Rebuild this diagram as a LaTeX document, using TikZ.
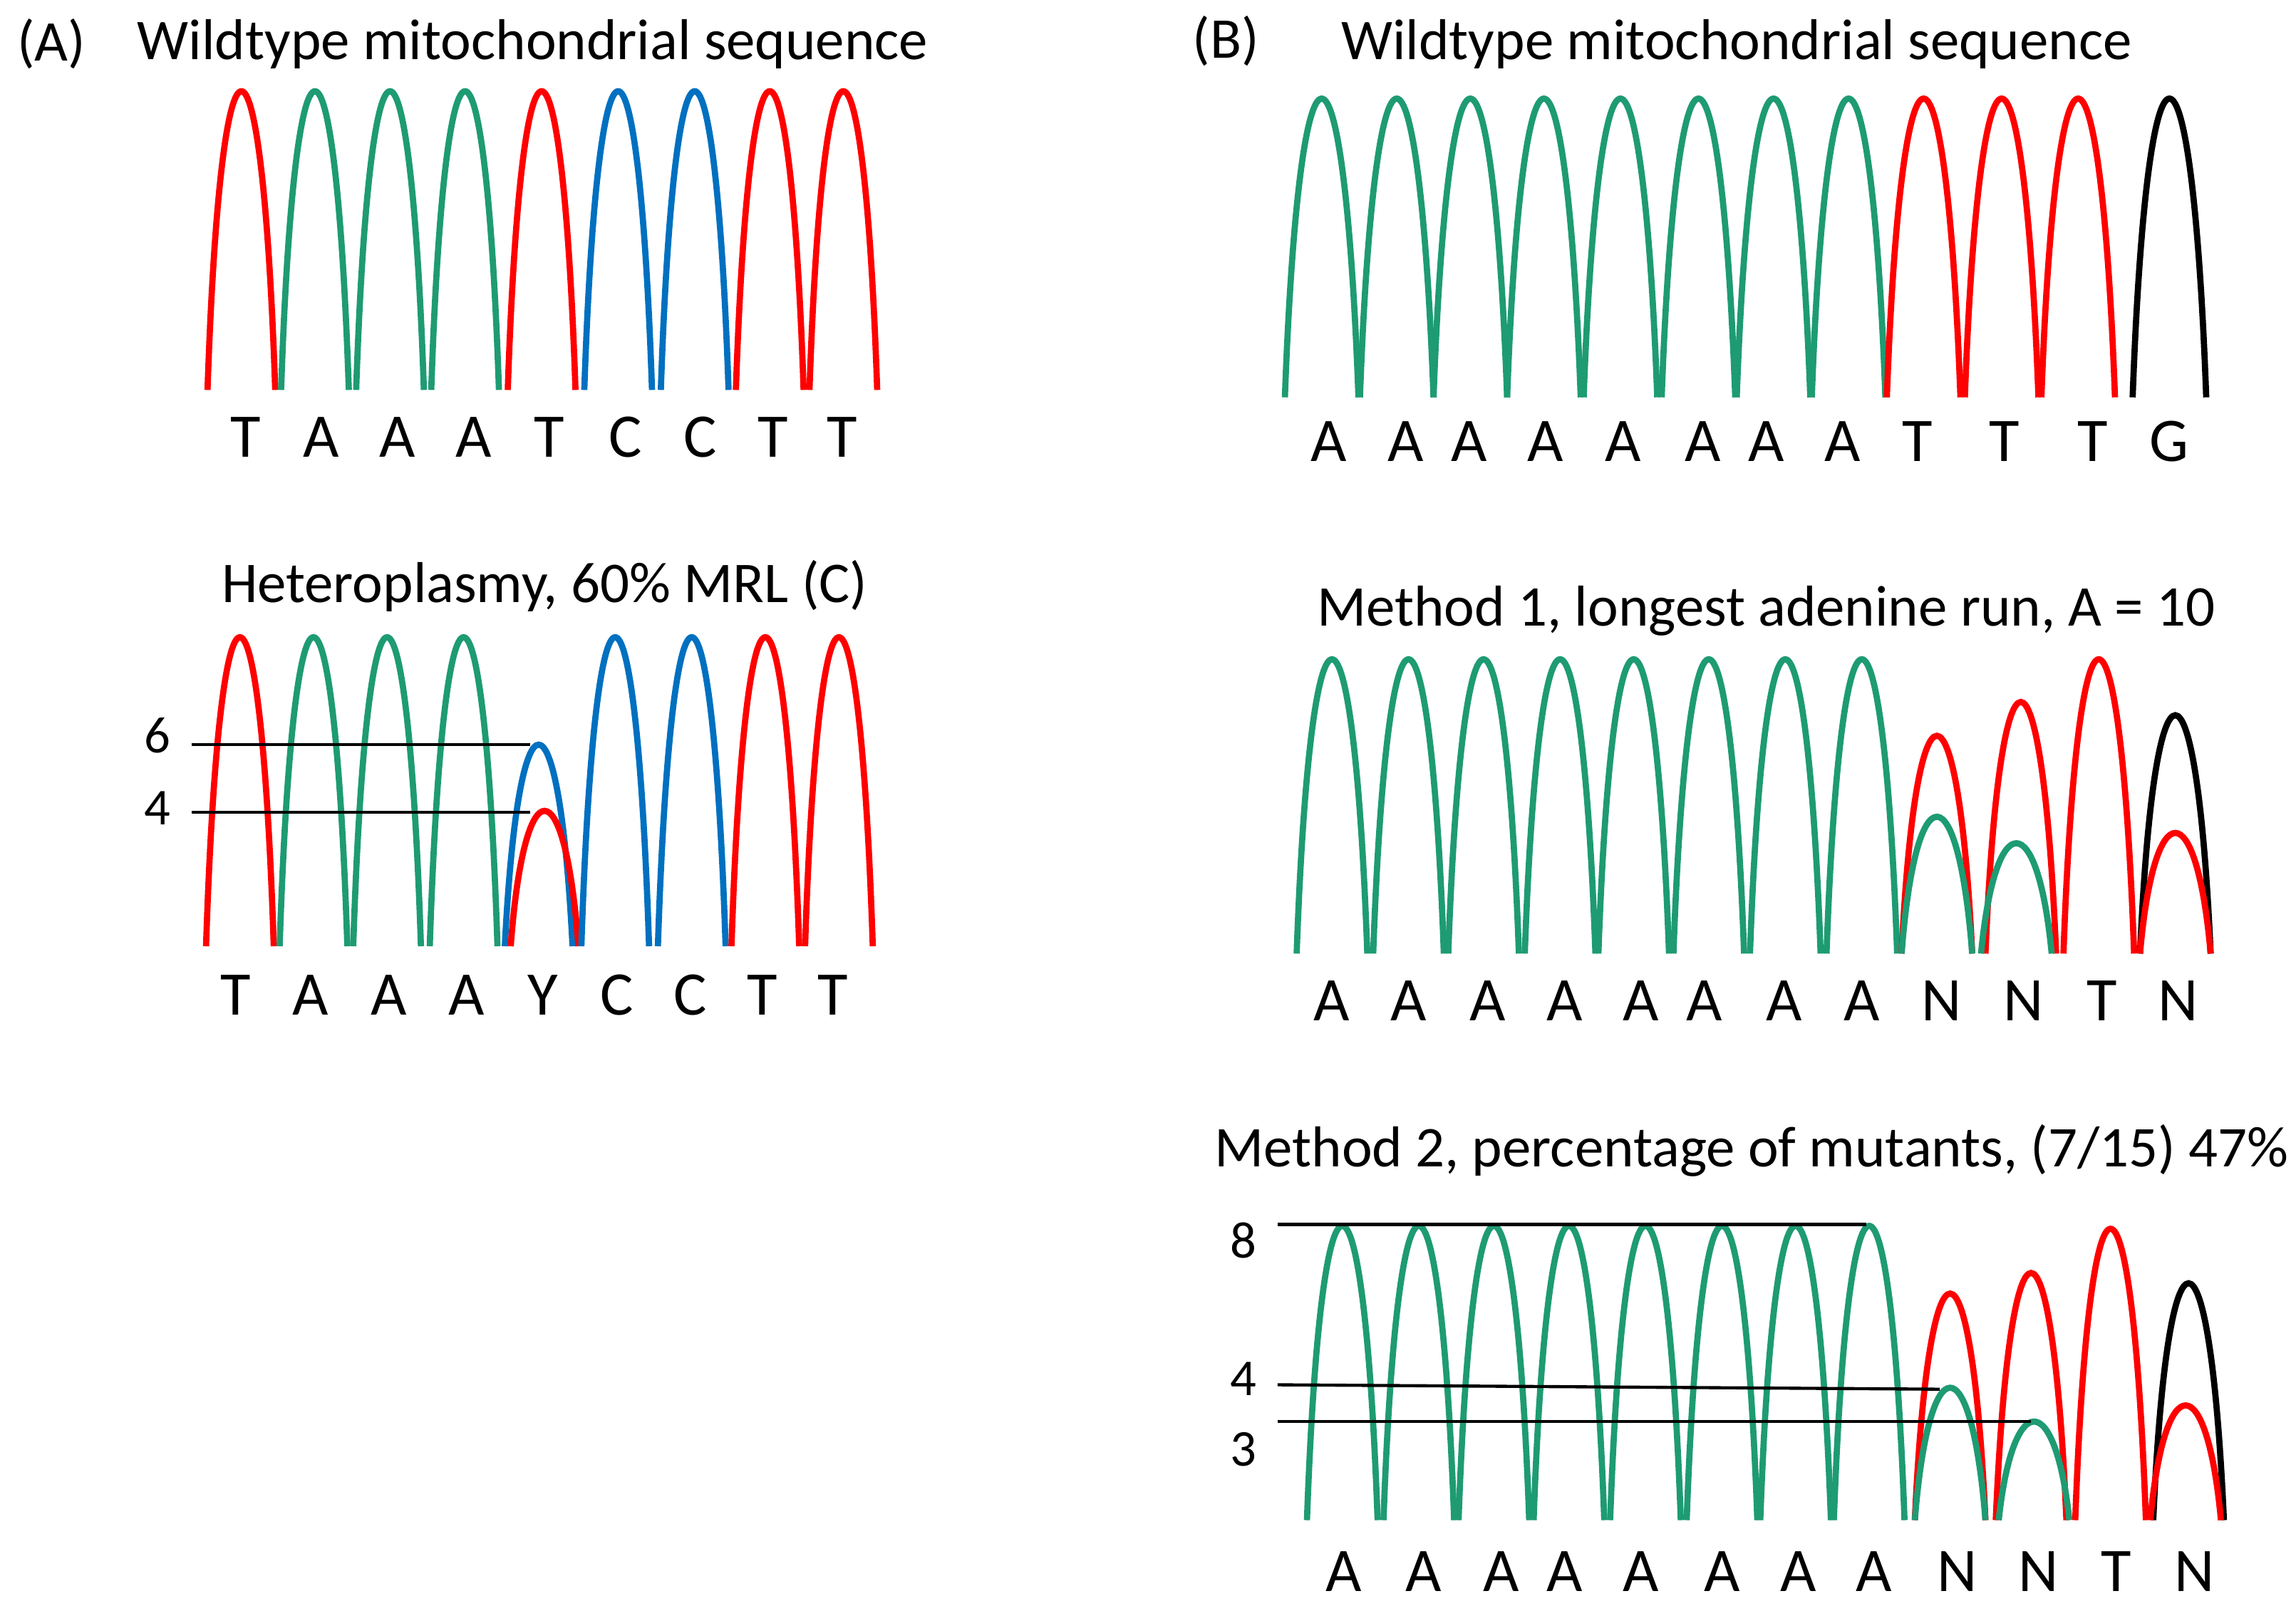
\documentclass[tikz,border=0pt]{standalone}
\usepackage{fontspec}
\setmainfont{Carlito}
\definecolor{pr}{RGB}{255,0,0}
\definecolor{pg}{RGB}{30,155,115}
\definecolor{pb}{RGB}{0,112,192}
\definecolor{pk}{RGB}{0,0,0}
\newcommand\pk[5]{% x, top, base, halfwidth, color
  \draw[#5,line width=2.4pt] ({#1-#4},#3) .. controls ({#1-0.6*#4},{#2-(#3-#2)/3}) and ({#1+0.6*#4},{#2-(#3-#2)/3}) .. ({#1+#4},#3);}
\begin{document}
\begin{tikzpicture}[x=0.02cm,y=-0.02cm,
  ttl/.style={font=\fontsize{22.3}{26}\selectfont},
  let/.style={font=\fontsize{24}{28}\selectfont},
  num/.style={font=\fontsize{20}{22}\selectfont},
  hl/.style={line width=1.2pt}]
\useasboundingbox (0,0) rectangle (1560,1091);
% Panel A
\node[ttl] (la) at (35,30) {(A)};
\node[ttl] (ta) at (362,30) {Wildtype mitochondrial sequence};
\foreach \x/\c in {164/pr,214/pg,265/pg,316/pg,368/pr,420/pb,472/pb,523/pr,573/pr}{\pk{\x}{62}{265}{23}{\c}}
\foreach \x/\l [count=\i] in {167/T,218/A,270/A,322/A,373/T,425/C,476/C,525/T,572/T}{\node[let] (a\i) at (\x,297) {\l};}
\node[ttl] (tb) at (370,398) {Heteroplasmy, 60\% MRL (C)};
\foreach \x/\t/\c in {163/433/pr,213/433/pg,263/433/pg,315/433/pg,366/506/pb,370/551/pr,418/433/pb,470/433/pb,520/433/pr,570/433/pr}{\pk{\x}{\t}{643}{23}{\c}}
\coordinate (h6a) at (130,506); \coordinate (h6b) at (360,506);
\coordinate (h4a) at (130,552); \coordinate (h4b) at (360,552);
\draw[hl] (h6a) -- (h6b); \draw[hl] (h4a) -- (h4b);
\node[num] (n6) at (107,500) {6};
\node[num] (n4) at (107,549) {4};
\foreach \x/\l [count=\i] in {160/T,211/A,264/A,317/A,369/Y,419/C,469/C,518/T,566/T}{\node[let] (b\i) at (\x,676) {\l};}
% Panel B top
\node[ttl] (lb) at (833,28) {(B)};
\node[ttl] (tc) at (1180,30) {Wildtype mitochondrial sequence};
\foreach \x/\c in {898/pg,949/pg,999/pg,1049/pg,1101/pg,1154/pg,1205/pg,1256/pg,1307/pr,1360/pr,1412/pr,1474/pk}{\pk{\x}{67}{270}{25}{\c}}
\foreach \x/\l [count=\i] in {903/A,955/A,998/A,1050/A,1103/A,1157/A,1200/A,1252/A,1303/T,1362/T,1422/T,1474/G}{\node[let] (c\i) at (\x,300) {\l};}
% Panel B middle
\node[ttl] (td) at (1200,415) {Method 1, longest adenine run, A = 10};
\foreach \x/\t/\c in {905/448/pg,957/448/pg,1008/448/pg,1060/448/pg,1110/448/pg,1161/448/pg,1213/448/pg,1265/448/pg,1316/500/pr,1316/555/pg,1373/477/pr,1370/573/pg,1426/448/pr,1478/486/pk,1478/566/pr}{\pk{\x}{\t}{648}{24}{\c}}
\foreach \x/\l [count=\i] in {905/A,957/A,1011/A,1063/A,1115/A,1158/A,1212/A,1265/A,1319/N,1375/N,1428/T,1480/N}{\node[let] (d\i) at (\x,680) {\l};}
% Panel B bottom
\node[ttl] (te) at (1190,782) {Method 2, percentage of mutants, (7/15) 47\%};
\foreach \x/\t/\c in {912/833/pg,964/833/pg,1015/833/pg,1066/833/pg,1118/833/pg,1170/833/pg,1220/833/pg,1270/833/pg,1325/879/pr,1325/943/pg,1380/865/pr,1382/966/pg,1434/835/pr,1487/872/pk,1485/955/pr}{\pk{\x}{\t}{1033}{24}{\c}}
\coordinate (m8a) at (868,832); \coordinate (m8b) at (1268,832);
\coordinate (m4a) at (868,941); \coordinate (m4b) at (1318,944);
\coordinate (m3a) at (868,966); \coordinate (m3b) at (1380,966);
\draw[hl] (m8a) -- (m8b); \draw[hl] (m4a) -- (m4b); \draw[hl] (m3a) -- (m3b);
\node[num] (e8) at (845,843) {8};
\node[num] (e4) at (845,937) {4};
\node[num] (e3) at (845,985) {3};
\foreach \x/\l [count=\i] in {913/A,967/A,1020/A,1063/A,1115/A,1170/A,1222/A,1273/A,1330/N,1385/N,1438/T,1491/N}{\node[let] (f\i) at (\x,1068) {\l};}
\end{tikzpicture}
\end{document}
